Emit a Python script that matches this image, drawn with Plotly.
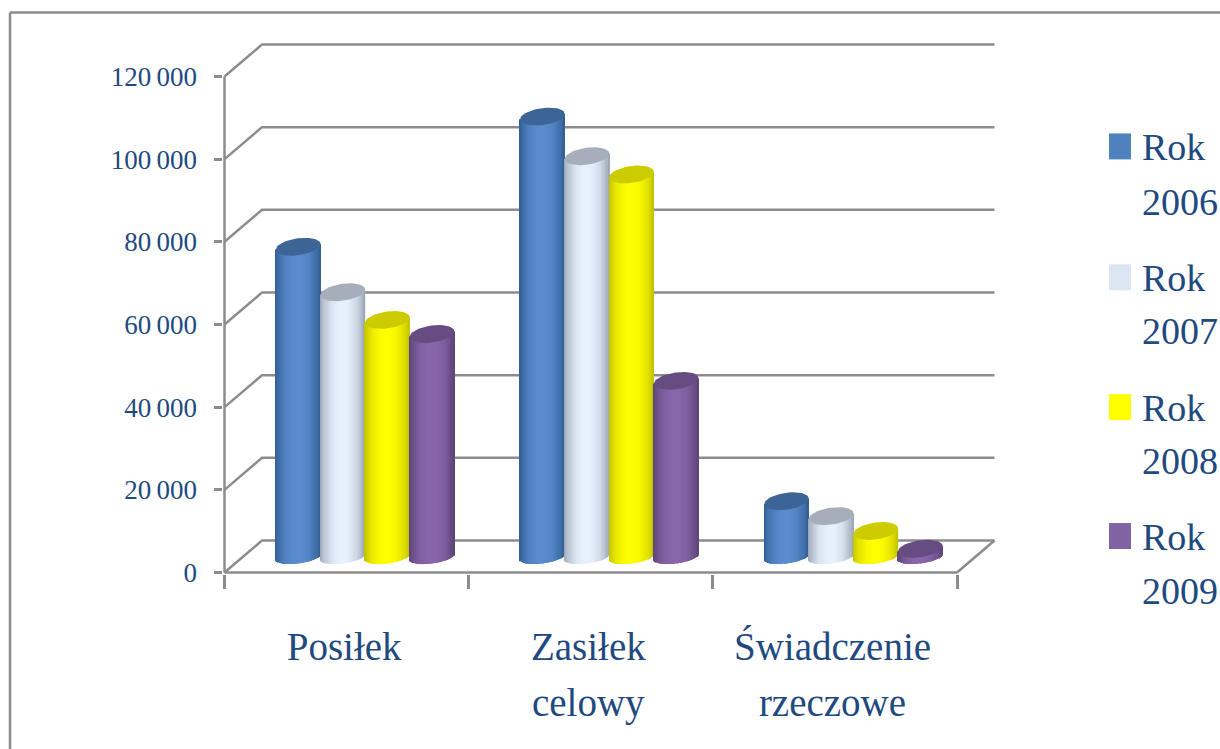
import numpy as np
import plotly.graph_objects as go

CATEGORIES = ["Posiłek", "Zasiłek<br>celowy", "Świadczenie<br>rzeczowe"]
YEARS = ["2006", "2007", "2008", "2009"]
ROK_2006 = [75050, 106550, 13500]
ROK_2007 = [64050, 96950, 9900]
ROK_2008 = [57350, 92550, 6300]
ROK_2009 = [53950, 42600, 2000]
SERIES = [ROK_2006, ROK_2007, ROK_2008, ROK_2009]
Y_TICKS = [0, 20000, 40000, 60000, 80000, 100000, 120000]
Y_LABELS = ["0", "20\u2009000", "40\u2009000", "60\u2009000", "80\u2009000", "100\u2009000", "120\u2009000"]

# colours per series: cylinder edge, cylinder centre, top cap, legend key
EDGE = ["#2f5c90", "#98a3b2", "#c0c000", "#5a4276"]
CENTRE = ["#5a8ccf", "#e8f2fe", "#ffff00", "#8a66ab"]
CAP = ["#3c6596", "#a6aebb", "#cccc00", "#664c80"]
KEY = ["#4f81bd", "#dce6f2", "#ffff00", "#8064a2"]
INK = "#1f4a80"
GREY = "#8c8c8c"
FONT = "Liberation Serif"

W, H = 1220, 749
X0_PX, X3_PX, Y0_PX, Y120_PX = 224.5, 957, 572.5, 76
PX_X = (X3_PX - X0_PX) / 3
PX_Y = (Y0_PX - Y120_PX) / 120000
DEPTH_PX_X, DEPTH_PX_Y = 37.5, 32
DEPTH_X, DEPTH_Y = DEPTH_PX_X / PX_X, DEPTH_PX_Y / PX_Y   # back wall offset
BASE_X, BASE_Y = 18.5 / PX_X, 15.5 / PX_Y                 # cylinders stand mid-depth
CYL_W = 44.6 / PX_X
SEMI_Y = 8.5 / PX_Y
FOOT_Y = 6.5 / PX_Y
TILT = 2.8 / PX_Y
N = 40
PAD_X, PAD_Y = 1.5 / PX_X, 1.5 / PX_Y
X_RANGE = [-PAD_X, 3 + DEPTH_X + PAD_X]
Y_RANGE = [-PAD_Y, 120000 + DEPTH_Y + PAD_Y]
L = X0_PX - 1.5
R = X3_PX + DEPTH_PX_X + 1.5
B = Y0_PX + 1.5
T = Y120_PX - DEPTH_PX_Y - 1.5


def px(x):
    return (x - L) / (R - L)


def py(y):
    return (B - y) / (B - T)


def hex2rgb(c):
    return np.array([int(c[i:i + 2], 16) for i in (1, 3, 5)], float)


def shade(edge, centre, u):
    t = np.sqrt(max(0.0, 1 - u * u)) ** 1.6
    c = hex2rgb(edge) * (1 - t) + hex2rgb(centre) * t
    return "rgb(%d,%d,%d)" % tuple(c)


fig = go.Figure()

# back wall, floor and the two front axis lines, on the primary axes
wall_x, wall_y = [], []
for v in Y_TICKS:
    wall_x += [0, DEPTH_X, 3 + DEPTH_X, None]
    wall_y += [v, v + DEPTH_Y, v + DEPTH_Y, None]
wall_x += [3, 3 + DEPTH_X, None, 0, 3, None, 0, 0]
wall_y += [0, DEPTH_Y, None, 0, 0, None, 0, 120000]
fig.add_trace(go.Scatter(x=wall_x, y=wall_y, mode="lines", line=dict(color=GREY, width=2.5),
                         hoverinfo="skip", showlegend=False))

us = np.linspace(-1, 1, N, endpoint=False) + 1.0 / N
# cylinder bodies
for s, values in enumerate(SERIES):
    xs, bases, tops, cols = [], [], [], []
    for g, v in enumerate(values):
        cx = g + BASE_X + (s - 1.5) * CYL_W + 0.5
        for u in us:
            xs.append(cx + u * CYL_W / 2)
            lift = u * TILT
            arc = FOOT_Y * np.sqrt(1 - u * u)
            bases.append(BASE_Y + lift - arc)
            tops.append(v + BASE_Y + lift)
            cols.append(shade(EDGE[s], CENTRE[s], u))
    fig.add_trace(go.Bar(x=np.array(xs), y=np.array(tops) - np.array(bases), base=np.array(bases),
                         width=CYL_W / N * 1.25, marker=dict(color=cols, line=dict(width=0)),
                         name="Rok " + YEARS[s], xaxis="x2", yaxis="y2",
                         hoverinfo="skip", showlegend=False))
# cylinder top caps
theta = np.linspace(0, 2 * np.pi, 60)
for s, values in enumerate(SERIES):
    for g, v in enumerate(values):
        cx = g + BASE_X + (s - 1.5) * CYL_W + 0.5
        fig.add_trace(go.Scatter(
            x=cx + np.cos(theta) * CYL_W / 2,
            y=v + BASE_Y + np.sin(theta) * SEMI_Y + np.cos(theta) * TILT,
            mode="lines", fill="toself", fillcolor=CAP[s], line=dict(width=0),
            xaxis="x2", yaxis="y2", hoverinfo="skip", showlegend=False))

span = lambda t: '<span style="font-size:39px">%s</span>' % t
cat_text = ["<br>".join(span(p) for p in c.split("<br>")) for c in CATEGORIES]

fig.update_layout(
    width=W, height=H, autosize=False, barmode="overlay",
    margin=dict(l=L, r=W - R, t=T, b=H - B, pad=0),
    paper_bgcolor="white", plot_bgcolor="rgba(0,0,0,0)", showlegend=False,
    font=dict(family=FONT, color=INK),
    xaxis=dict(range=X_RANGE, tickmode="array", tickvals=[0.49, 1.49, 2.49], ticktext=cat_text,
               ticklen=0, showgrid=False, zeroline=False, showline=False,
               tickfont=dict(size=43, color=INK, family=FONT), ticklabelstandoff=42,
               minor=dict(tickmode="array", tickvals=[0, 1, 2, 3], ticks="outside", ticklen=14,
                          tickwidth=2.5, tickcolor=GREY, showgrid=False)),
    yaxis=dict(range=Y_RANGE, tickmode="array", tickvals=Y_TICKS, ticktext=Y_LABELS,
               ticks="outside", ticklen=8.5, tickwidth=2.5, tickcolor=GREY, showgrid=False, zeroline=False,
               showline=False, ticklabelstandoff=11,
               tickfont=dict(size=27, color=INK, family=FONT)),
    xaxis2=dict(range=X_RANGE, overlaying="x", visible=False),
    yaxis2=dict(range=Y_RANGE, overlaying="y", visible=False),
)

# outer frame
shapes = [
    dict(type="line", xref="paper", yref="paper", x0=px(10), x1=px(1240), y0=py(12), y1=py(12),
         line=dict(color=GREY, width=2.5)),
    dict(type="line", xref="paper", yref="paper", x0=px(10), x1=px(10), y0=py(12), y1=py(770),
         line=dict(color=GREY, width=2.5)),
]
# key
KEY_Y = [146, 277, 407, 536]
LINE2_Y = [202, 331, 461, 591]
annotations = []
for s, y in enumerate(KEY_Y):
    shapes.append(dict(type="rect", xref="paper", yref="paper", x0=px(1109), x1=px(1131),
                       y0=py(y - 13), y1=py(y + 13), fillcolor=KEY[s], line=dict(width=0)))
    for txt, yy in (("Rok", y + 1), (YEARS[s], LINE2_Y[s])):
        annotations.append(dict(text=txt, xref="paper", yref="paper", x=px(1140), y=py(yy),
                                xanchor="left", yanchor="middle", showarrow=False,
                                font=dict(size=38, color=INK, family=FONT)))
fig.update_layout(shapes=shapes, annotations=annotations)

fig.write_html("out.html", config=dict(displayModeBar=False),
               post_script="document.body.style.margin='0';document.documentElement.style.overflow='hidden';")
